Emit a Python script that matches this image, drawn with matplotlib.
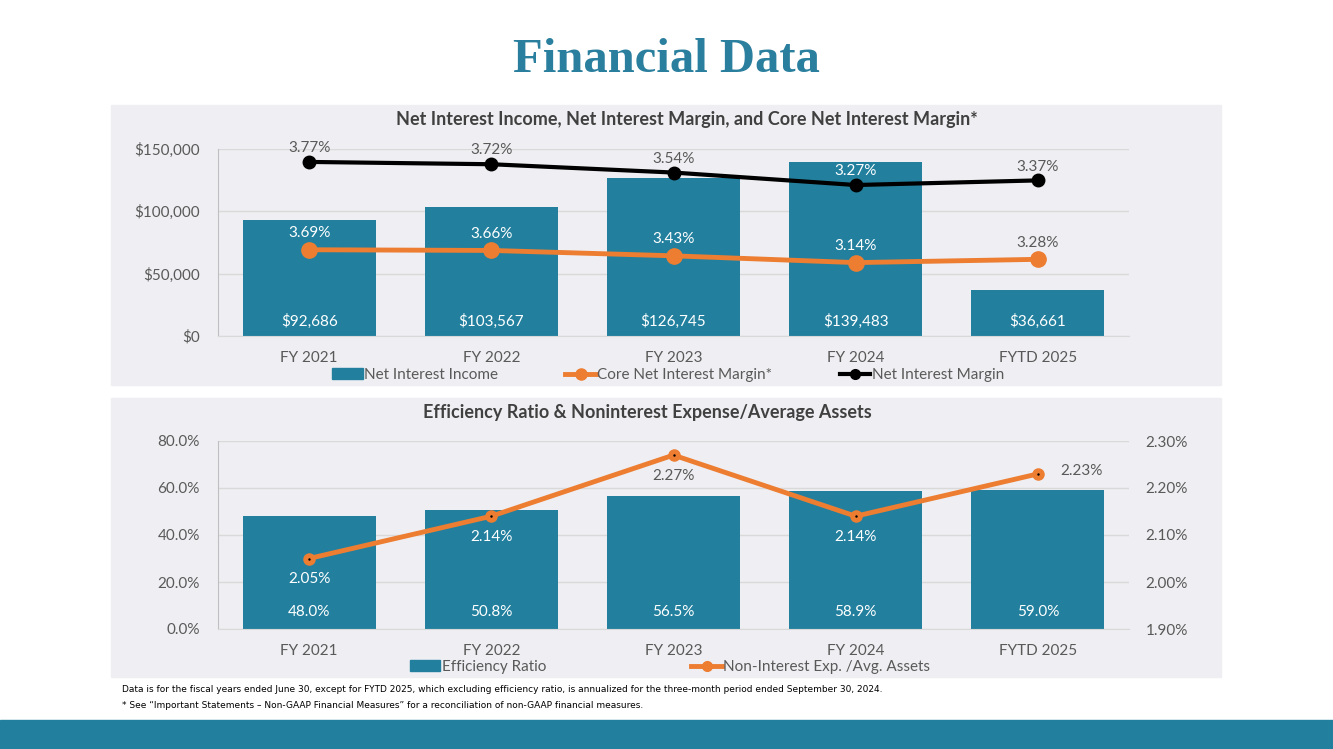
import numpy as np
import matplotlib
matplotlib.use('Agg')
from matplotlib import pyplot as plt
from matplotlib.patches import Rectangle, Patch
from matplotlib.lines import Line2D
from matplotlib.ticker import FuncFormatter

years = ['FY 2021', 'FY 2022', 'FY 2023', 'FY 2024', 'FYTD 2025']
net_interest_income = [92686, 103567, 126745, 139483, 36661]
net_interest_margin = [3.77, 3.72, 3.54, 3.27, 3.37]
core_nim = [3.69, 3.66, 3.43, 3.14, 3.28]
efficiency_ratio = [48.0, 50.8, 56.5, 58.9, 59.0]
nonint_exp_assets = [2.05, 2.14, 2.27, 2.14, 2.23]

teal = '#22809E'
orange = '#ED7D31'
grey_txt = '#595959'
dark_txt = '#404040'
panel_bg = '#EFEFF3'
fs = 11

plt.rcParams['font.family'] = ['Lato', 'DejaVu Sans']

W, H = 1333, 749
fig = plt.figure(figsize=(W / 100, H / 100), dpi=100)


def fx(px):
    return px / W


def fy(py):
    return 1 - py / H


# fondos de los paneles y banda inferior
fig.patches.append(Rectangle((fx(111), fy(385)), fx(1110), 280 / H, transform=fig.transFigure,
                             color=panel_bg, zorder=-10))
fig.patches.append(Rectangle((fx(111), fy(677)), fx(1110), 279 / H, transform=fig.transFigure,
                             color=panel_bg, zorder=-10))
fig.patches.append(Rectangle((0, 0), 1, 29 / H, transform=fig.transFigure, color=teal, zorder=-10))

fig.text(fx(666), fy(60), 'Financial Data', ha='center', va='center', fontsize=35,
         fontweight='bold', color='#2A7F9E', family='Liberation Serif')

x = np.arange(len(years))


def style_axis(ax):
    ax.set_facecolor('none')
    ax.set_xlim(-0.5, len(years) - 0.5)
    ax.spines[['top', 'right']].set_visible(False)
    ax.spines['left'].set_color('#BFBFBF')
    ax.spines['bottom'].set_color('#D9D9D9')
    ax.grid(axis='y', color='#D9D9D9', lw=1)
    ax.set_axisbelow(True)
    ax.tick_params(length=0, labelsize=fs, labelcolor=grey_txt)
    ax.tick_params(axis='x', pad=11)
    ax.tick_params(axis='y', pad=13)
    ax.set_xticks(x)
    ax.set_xticklabels(years)


# ---------------- grafico superior ----------------
ax1 = fig.add_axes([fx(218), fy(336), fx(911), 187 / H])
style_axis(ax1)
ax1.bar(x, net_interest_income, width=0.73, color=teal, zorder=2)
ax1.set_ylim(0, 150000)
ax1.set_yticks([0, 50000, 100000, 150000])
ax1.yaxis.set_major_formatter(FuncFormatter(lambda v, p: '${:,.0f}'.format(v)))
for i, v in enumerate(net_interest_income):
    ax1.text(i, 12000, '${:,}'.format(v), ha='center', va='center', color='white', fontsize=fs)

ax_core = ax1.twinx()
ax_core.set_ylim(0, 8)
ax_core.set_axis_off()
ax_core.plot(x, core_nim, color=orange, lw=3.5, marker='o', ms=11, zorder=3)
for i, v in enumerate(core_nim):
    col = 'white' if i < 4 else grey_txt
    ax_core.annotate('{:.2f}%'.format(v), (i, v), xytext=(0, 12), textcoords='offset points',
                     ha='center', va='center', color=col, fontsize=fs)

ax_nim = ax1.twinx()
ax_nim.set_ylim(0, 4.05)
ax_nim.set_axis_off()
ax_nim.plot(x, net_interest_margin, color='black', lw=3, marker='o', ms=9, zorder=3)
for i, v in enumerate(net_interest_margin):
    col = 'white' if i == 3 else grey_txt
    ax_nim.annotate('{:.2f}%'.format(v), (i, v), xytext=(0, 10), textcoords='offset points',
                    ha='center', va='center', color=col, fontsize=fs)

fig.text(fx(687), fy(119), 'Net Interest Income, Net Interest Margin, and Core Net Interest Margin*',
         ha='center', va='center', fontsize=13, fontweight='bold', color=dark_txt)

handles1 = [Patch(color=teal),
            Line2D([], [], color=orange, lw=3.5, marker='o', ms=8),
            Line2D([], [], color='black', lw=3, marker='o', ms=7)]
fig.legend(handles1, ['Net Interest Income', 'Core Net Interest Margin*', 'Net Interest Margin'],
           loc='center', bbox_to_anchor=(fx(668), fy(375)), ncol=3, frameon=False,
           fontsize=fs, labelcolor=grey_txt, handlelength=2, handletextpad=0.1,
           columnspacing=4.4)

# ---------------- grafico inferior ----------------
ax2 = fig.add_axes([fx(218), fy(629), fx(911), 188 / H])
style_axis(ax2)
ax2.bar(x, efficiency_ratio, width=0.73, color=teal, zorder=2)
ax2.set_ylim(0, 80)
ax2.set_yticks([0, 20, 40, 60, 80])
ax2.yaxis.set_major_formatter(FuncFormatter(lambda v, p: '{:.1f}%'.format(v)))
for i, v in enumerate(efficiency_ratio):
    ax2.text(i, 7.2, '{:.1f}%'.format(v), ha='center', va='center', color='white', fontsize=fs)

ax2r = ax2.twinx()
ax2r.set_ylim(1.9, 2.3)
ax2r.set_yticks([1.9, 2.0, 2.1, 2.2, 2.3])
ax2r.yaxis.set_major_formatter(FuncFormatter(lambda v, p: '{:.2f}%'.format(v)))
ax2r.spines[['top', 'right', 'left', 'bottom']].set_visible(False)
ax2r.tick_params(length=0, labelsize=fs, labelcolor=grey_txt, pad=12)
ax2r.plot(x, nonint_exp_assets, color=orange, lw=3.5, marker='o', ms=8, zorder=3)
ax2r.plot(x, nonint_exp_assets, ls='none', marker='.', ms=1.5, color='black', zorder=4)
for i, v in enumerate(nonint_exp_assets):
    if i == 4:
        ax2r.annotate('{:.2f}%'.format(v), (i, v), xytext=(16, 2), textcoords='offset points',
                      ha='left', va='center', color=grey_txt, fontsize=fs)
    else:
        col = grey_txt if i == 2 else 'white'
        ax2r.annotate('{:.2f}%'.format(v), (i, v), xytext=(0, -15), textcoords='offset points',
                      ha='center', va='center', color=col, fontsize=fs)

fig.text(fx(647), fy(413), 'Efficiency Ratio & Noninterest Expense/Average Assets',
         ha='center', va='center', fontsize=13, fontweight='bold', color=dark_txt)

handles2 = [Patch(color=teal),
            Line2D([], [], color=orange, lw=3.5, marker='o', ms=7)]
fig.legend(handles2, ['Efficiency Ratio', 'Non-Interest Exp. /Avg. Assets'],
           loc='center', bbox_to_anchor=(fx(670), fy(667)), ncol=2, frameon=False,
           fontsize=fs, labelcolor=grey_txt, handlelength=2, handletextpad=0.1,
           columnspacing=9.5)

# notas al pie
fig.text(fx(122), fy(690), 'Data is for the fiscal years ended June 30, except for FYTD 2025, which excluding '
         'efficiency ratio, is annualized for the three-month period ended September 30, 2024.',
         ha='left', va='center', fontsize=6.5, color='black',
         family=['Liberation Sans Narrow', 'DejaVu Sans'])
fig.text(fx(122), fy(705), '* See \u201cImportant Statements \u2013 Non-GAAP Financial Measures\u201d for a '
         'reconciliation of non-GAAP financial measures.',
         ha='left', va='center', fontsize=6.5, color='black',
         family=['Liberation Sans Narrow', 'DejaVu Sans'])

fig.savefig('out.png', dpi=100)
